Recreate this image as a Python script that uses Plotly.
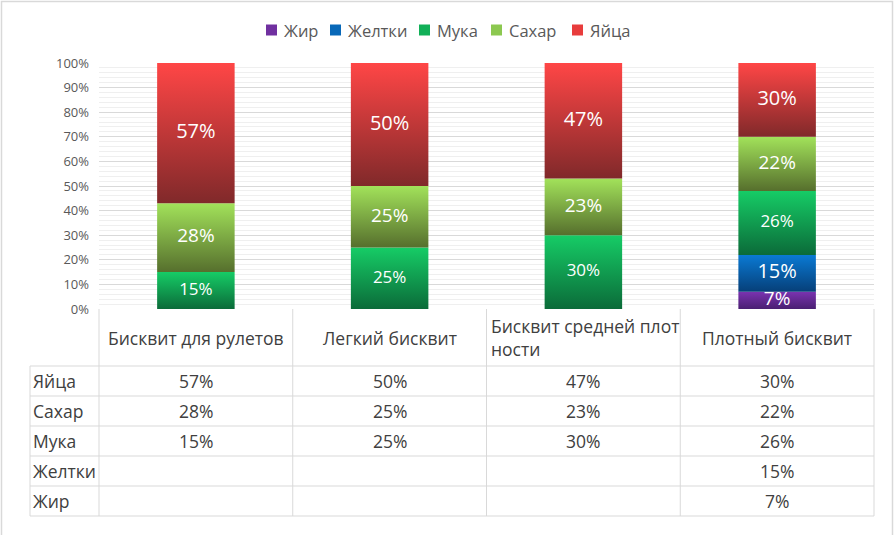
import plotly.graph_objects as go

# ---------------- data ----------------
categories = ["Бисквит для рулетов", "Легкий бисквит", "Бисквит средней плотности", "Плотный бисквит"]
header_labels = ["Бисквит для рулетов", "Легкий бисквит", "Бисквит средней плот<br>ности", "Плотный бисквит"]
series_names = ["Жир", "Желтки", "Мука", "Сахар", "Яйца"]          # stacking order, bottom -> top
zhir = [None, None, None, 7]
zheltki = [None, None, None, 15]
muka = [15, 25, 30, 26]
sahar = [28, 25, 23, 22]
yaytsa = [57, 50, 47, 30]
y_ticks = [0, 10, 20, 30, 40, 50, 60, 70, 80, 90, 100]

series_values = [zhir, zheltki, muka, sahar, yaytsa]
top_colors = ["#7a33b0", "#0a7ad4", "#16cc66", "#a2e25a", "#ff4646"]
bottom_colors = ["#4a1f72", "#063f78", "#0b6b39", "#566f2d", "#80292a"]
legend_colors = ["#7030a0", "#0868b8", "#12b058", "#8cc850", "#e83c3c"]
label_sizes = [19, 20, 17, 19, 20]

# ---------------- layout geometry (pixels) ----------------
W, H = 895, 535
ML, MR, MT, MB = 99, 21, 63, 226
PW, PH = W - ML - MR, H - MT - MB
HEADER_H, ROW_H = 57, 30
HALF = 0.2  # half bar width in category units
N = len(categories)
FONT = "Open Sans"
TABLE_FS = 17.5
LEGEND_Y = 30
LEGEND_SQ_X = [266, 330, 419, 491, 572]   # left edge of each legend key
LEGEND_SQ = 11

def px_x(p):  # pixel x -> paper
    return (p - ML) / PW

def px_y(p):  # pixel y (from top) -> paper
    return (H - MB - p) / PH

def cat_x(c):  # category coordinate -> paper
    return (c + 0.5) / N

fig = go.Figure()

# stacked segments with vertical gradient
base = [0.0] * N
label_x, label_y, label_t, label_s = [], [], [], []
for s, vals in enumerate(series_values):
    for i, v in enumerate(vals):
        if v is None:
            continue
        b, t = base[i], base[i] + v
        fig.add_trace(go.Scatter(
            x=[i - HALF, i + HALF, i + HALF, i - HALF, i - HALF],
            y=[b, b, t, t, b],
            mode="none", fill="toself", name=series_names[s],
            fillgradient=dict(type="vertical",
                              colorscale=[[0, bottom_colors[s]], [1, top_colors[s]]]),
            showlegend=False, hoverinfo="skip"))
        label_x.append(i)
        label_y.append((b + t) / 2)
        label_t.append(f"{v}%")
        label_s.append(label_sizes[s])
        base[i] = t

fig.add_trace(go.Scatter(x=label_x, y=label_y, text=label_t, mode="text",
                         textfont=dict(color="white", size=label_s, family=FONT),
                         showlegend=False, hoverinfo="skip"))

shapes = []
annotations = []

# ---------------- legend (keys + names) ----------------
for s, name in enumerate(series_names):
    x0 = LEGEND_SQ_X[s]
    shapes.append(dict(type="rect", xref="paper", yref="paper",
                       x0=px_x(x0), x1=px_x(x0 + LEGEND_SQ),
                       y0=px_y(LEGEND_Y + LEGEND_SQ / 2), y1=px_y(LEGEND_Y - LEGEND_SQ / 2),
                       line=dict(width=0), fillcolor=legend_colors[s]))
    annotations.append(dict(xref="paper", yref="paper", x=px_x(x0 + LEGEND_SQ + 5),
                            y=px_y(LEGEND_Y), text=name, showarrow=False,
                            xanchor="left", yanchor="middle",
                            font=dict(size=16.5, color="#595959", family=FONT)))

# ---------------- data table ----------------
line_col = "#d9d9d9"
txt_col = "#404040"
header_bottom = px_y(H - MB + HEADER_H)
row_labels = series_names[::-1]
table_rows = series_values[::-1]
n_rows = len(row_labels)
table_bottom = px_y(H - MB + HEADER_H + n_rows * ROW_H)
left_x = px_x(30)

for k in range(N + 1):
    xx = cat_x(k - 0.5)
    shapes.append(dict(type="line", xref="paper", yref="paper", x0=xx, x1=xx,
                       y0=0, y1=table_bottom, line=dict(color=line_col, width=1)))
shapes.append(dict(type="line", xref="paper", yref="paper", x0=left_x, x1=left_x,
                   y0=header_bottom, y1=table_bottom, line=dict(color=line_col, width=1)))
for r in range(n_rows + 1):
    yy = px_y(H - MB + HEADER_H + r * ROW_H)
    shapes.append(dict(type="line", xref="paper", yref="paper", x0=left_x, x1=1,
                       y0=yy, y1=yy, line=dict(color=line_col, width=1)))
# outer chart border
shapes.append(dict(type="rect", xref="paper", yref="paper", x0=px_x(1.5), x1=px_x(892.5),
                   y0=px_y(H + 10), y1=px_y(1.5), line=dict(color=line_col, width=1.5),
                   fillcolor="rgba(0,0,0,0)"))

for i, lab in enumerate(header_labels):
    if "<br>" in lab:
        annotations.append(dict(xref="paper", yref="paper", x=cat_x(i - 0.5) + 2 / PW,
                                y=header_bottom / 2, text=lab, showarrow=False,
                                xanchor="left", yanchor="middle", align="left",
                                font=dict(size=TABLE_FS, color=txt_col, family=FONT)))
    else:
        annotations.append(dict(xref="paper", yref="paper", x=cat_x(i),
                                y=header_bottom / 2, text=lab, showarrow=False,
                                xanchor="center", yanchor="middle",
                                font=dict(size=TABLE_FS, color=txt_col, family=FONT)))
for r, (rl, vals) in enumerate(zip(row_labels, table_rows)):
    yc = px_y(H - MB + HEADER_H + r * ROW_H + ROW_H / 2)
    annotations.append(dict(xref="paper", yref="paper", x=left_x + 1 / PW, y=yc, text=rl,
                            showarrow=False, xanchor="left", yanchor="middle",
                            font=dict(size=TABLE_FS, color=txt_col, family=FONT)))
    for i, v in enumerate(vals):
        if v is None:
            continue
        annotations.append(dict(xref="paper", yref="paper", x=cat_x(i), y=yc, text=f"{v}%",
                                showarrow=False, xanchor="center", yanchor="middle",
                                font=dict(size=TABLE_FS, color=txt_col, family=FONT)))

fig.update_layout(
    width=W, height=H,
    margin=dict(l=ML, r=MR, t=MT, b=MB, pad=0, autoexpand=False),
    paper_bgcolor="white", plot_bgcolor="white",
    font=dict(family=FONT, color="#595959"),
    showlegend=False,
    xaxis=dict(range=[-0.5, N - 0.5], showticklabels=False, showgrid=False,
               zeroline=False, showline=False, fixedrange=True),
    yaxis=dict(range=[0, 100], tickvals=y_ticks, ticktext=[f"{t}%" for t in y_ticks],
               showgrid=True, gridcolor="#d9d9d9", gridwidth=1,
               minor=dict(dtick=2, showgrid=True, gridcolor="#efefef", gridwidth=1),
               zeroline=False, showline=False, ticks="",
               tickfont=dict(size=13, color="#595959", family=FONT),
               ticklabelstandoff=9, fixedrange=True),
    shapes=shapes, annotations=annotations,
)

fig.write_html("out.html", config={"displayModeBar": False},
               post_script="document.body.style.margin='0';document.body.style.overflow='hidden';")
